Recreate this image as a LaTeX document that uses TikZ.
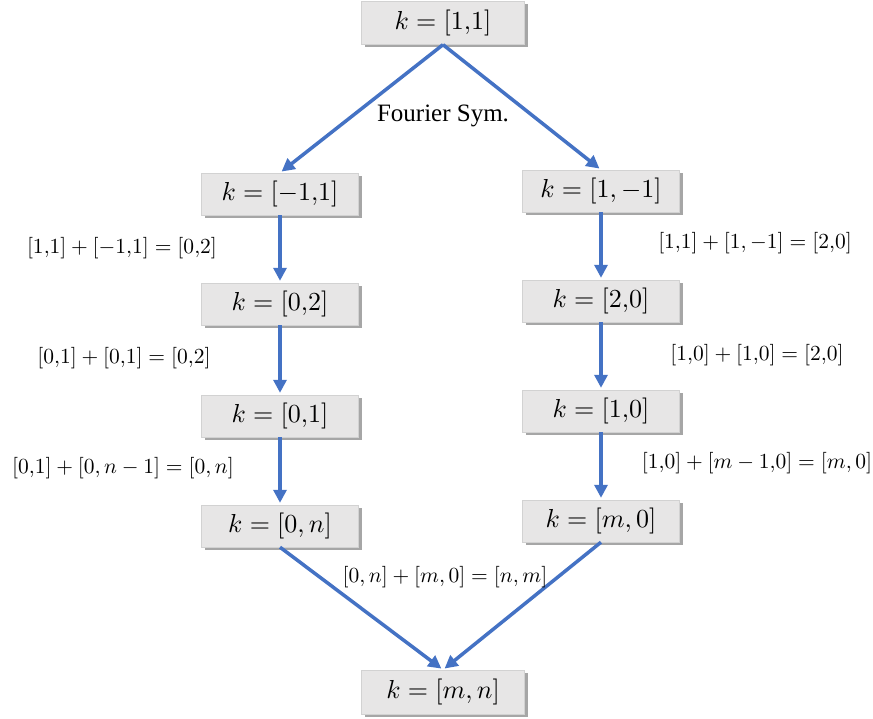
\documentclass[tikz,border=0pt]{standalone}
\usepackage{graphicx}
\usepackage{fontspec}
\newfontfamily\lserif{Liberation Serif}
\usetikzlibrary{shadows,arrows.meta}
\definecolor{arr}{HTML}{4472C4}
\definecolor{boxg}{HTML}{E7E6E6}
\newcommand{\boxmath}[1]{\scalebox{2.6}{$#1$}}
\newcommand{\labmath}[1]{\scalebox{2.15}{$#1$}}
\begin{document}
\begin{tikzpicture}[x=1pt,y=-1pt,
 kbox/.style={fill=boxg, draw=gray!35, line width=0.4pt, minimum width=157pt, minimum height=42pt, inner sep=0pt,
   drop shadow={shadow xshift=3pt, shadow yshift=-3pt, opacity=0.35, fill=black}},
 lab/.style={inner sep=0pt},
 conn/.style={draw=arr, line width=3.5pt, -{Triangle[length=13pt,width=13pt]}, shorten >=2pt}]
\useasboundingbox (0,0) rectangle (873,719);
\node[kbox, minimum width=163pt, minimum height=43pt] (top) at (443,23) {\boxmath{k=[1{,}1]}};
\node[kbox] (L1) at (280,194) {\boxmath{k=[-1{,}1]}};
\node[kbox] (R1) at (601,191) {\boxmath{k=[1,-1]}};
\node[kbox] (L2) at (280,304) {\boxmath{k=[0{,}2]}};
\node[kbox] (R2) at (601,301) {\boxmath{k=[2{,}0]}};
\node[kbox] (L3) at (280,416) {\boxmath{k=[0{,}1]}};
\node[kbox] (R3) at (601,411) {\boxmath{k=[1{,}0]}};
\node[kbox] (L4) at (280,526) {\boxmath{k=[0,n]}};
\node[kbox] (R4) at (601,521) {\boxmath{k=[m,0]}};
\node[kbox, minimum width=163pt, minimum height=44pt] (bot) at (443,692) {\boxmath{k=[m,n]}};

\draw[conn] (top.south) -- (L1.north);
\draw[conn] (top.south) -- (R1.north);
\draw[conn] (L1.south) -- (L2.north);
\draw[conn] (L2.south) -- (L3.north);
\draw[conn] (L3.south) -- (L4.north);
\draw[conn] (R1.south) -- (R2.north);
\draw[conn] (R2.south) -- (R3.north);
\draw[conn] (R3.south) -- (R4.north);
\draw[conn] (L4.south) -- (bot.north);
\draw[conn] (R4.south) -- (bot.north);

\node[font=\lserif\fontsize{25}{29}\selectfont, inner sep=0pt] (fs) at (443,116) {Fourier Sym.};
\node[lab] (a1) at (122,248) {\labmath{[1{,}1]+[-1{,}1]=[0{,}2]}};
\node[lab] (b1) at (755,243) {\labmath{[1{,}1]+[1,-1]=[2{,}0]}};
\node[lab] (a2) at (124,358) {\labmath{[0{,}1]+[0{,}1]=[0{,}2]}};
\node[lab] (b2) at (757,355) {\labmath{[1{,}0]+[1{,}0]=[2{,}0]}};
\node[lab] (a3) at (123,468) {\labmath{[0{,}1]+[0,n-1]=[0,n]}};
\node[lab] (b3) at (757,463) {\labmath{[1{,}0]+[m-1{,}0]=[m,0]}};
\node[lab] (c) at (445,577) {\labmath{[0,n]+[m,0]=[n,m]}};
\end{tikzpicture}
\end{document}
